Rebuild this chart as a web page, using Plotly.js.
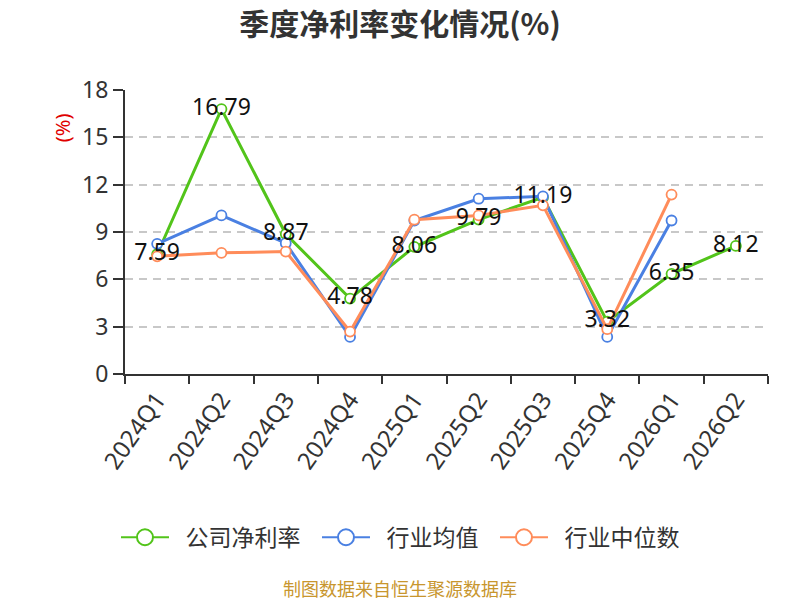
<!DOCTYPE html>
<html>
<head>
<meta charset="utf-8">
<script src="https://cdn.plot.ly/plotly-3.0.1.min.js"></script>
<style>
  html, body { margin: 0; padding: 0; background: #fff; }
  #chart { width: 800px; height: 600px; }
</style>
</head>
<body>
<div id="chart"></div>
<script>
// quarters on the x axis
const quarters = ["2024Q1", "2024Q2", "2024Q3", "2024Q4", "2025Q1", "2025Q2", "2025Q3", "2025Q4", "2026Q1", "2026Q2"];

// net margin of the company, industry mean and industry median (%)
const companyMargin = [7.59, 16.79, 8.87, 4.78, 8.06, 9.79, 11.19, 3.32, 6.35, 8.12];
const industryMean = [8.25, 10.05, 8.29, 2.35, 9.73, 11.11, 11.26, 2.35, 9.73, null];
const industryMedian = [7.46, 7.68, 7.76, 2.69, 9.78, 10.05, 10.69, 2.84, 11.37, null];

const seriesNames = ["公司净利率", "行业均值", "行业中位数"];
const seriesColors = ["#52c41a", "#4a80e2", "#ff8c5a"];
const yTicks = [0, 3, 6, 9, 12, 15, 18];

const font = "'Noto Sans', 'Noto Sans CJK SC', sans-serif";
const cjkFont = "'Noto Sans CJK SC', sans-serif";

function lineTrace(values, color) {
    return {
        x: quarters,
        y: values,
        type: "scatter",
        mode: "lines+markers",
        line: { color: color, width: 3 },
        marker: { symbol: "circle", size: 10, color: "#fff", line: { color: color, width: 1.8 } },
        showlegend: false,
        hoverinfo: "x+y"
    };
}

// legend-only entries, so the legend circles can be bigger than on the lines
function legendTrace(name, color) {
    return {
        x: [quarters[0]],
        y: [null],
        name: "\u2002" + name + "\u2002",
        type: "scatter",
        mode: "lines+markers",
        line: { color: color, width: 2 },
        marker: { symbol: "circle", size: 16, color: "#fff", line: { color: color, width: 2 } },
        hoverinfo: "skip"
    };
}

let data = [
    lineTrace(companyMargin, seriesColors[0]),
    lineTrace(industryMean, seriesColors[1]),
    lineTrace(industryMedian, seriesColors[2])
];

// value labels of the company series, on top of all lines
data.push({
    x: quarters,
    y: companyMargin,
    text: companyMargin.map(v => v.toFixed(2)),
    mode: "text",
    type: "scatter",
    textposition: "middle center",
    textfont: { family: font, size: 23, color: "#111" },
    showlegend: false,
    hoverinfo: "skip"
});

for (let i = 0; i < seriesNames.length; i++) {
    data.push(legendTrace(seriesNames[i], seriesColors[i]));
}

let layout = {
    width: 800,
    height: 600,
    paper_bgcolor: "#fff",
    plot_bgcolor: "#fff",
    margin: { l: 125, r: 32, t: 90, b: 226 },
    font: { family: font, color: "#333" },
    title: {
        text: "<b>季度净利率变化情况(%)</b>",
        font: { family: cjkFont, size: 30, color: "#333" },
        x: 0.5, xanchor: "center",
        y: 0.96, yanchor: "middle"
    },
    xaxis: {
        type: "category",
        range: [-0.5, quarters.length - 0.5],
        tickangle: -55,
        tickfont: { family: font, size: 24, color: "#333" },
        showline: true,
        linecolor: "#333",
        linewidth: 2,
        ticks: "outside",
        tickson: "boundaries",
        ticklen: 8,
        tickcolor: "#333",
        tickwidth: 2,
        showgrid: false,
        zeroline: false,
        fixedrange: true
    },
    yaxis: {
        range: [0, 18],
        tickvals: yTicks,
        tickfont: { family: font, size: 23, color: "#333" },
        showline: true,
        linecolor: "#333",
        linewidth: 2,
        ticks: "outside",
        ticklen: 10,
        tickcolor: "#333",
        tickwidth: 2,
        showgrid: true,
        gridcolor: "#c8c8c8",
        griddash: "8px,6px",
        gridwidth: 1.8,
        zeroline: false,
        fixedrange: true
    },
    legend: {
        orientation: "h",
        x: 0.437, xanchor: "center",
        y: -0.575, yanchor: "middle",
        font: { family: cjkFont, size: 23, color: "#333" },
        itemwidth: 48
    },
    annotations: [
        {
            text: "(%)",
            xref: "paper", yref: "paper",
            x: -0.098, y: 0.869,
            xanchor: "center", yanchor: "middle",
            showarrow: false,
            textangle: -90,
            font: { family: font, size: 20, color: "#e00000" }
        },
        {
            text: "制图数据来自恒生聚源数据库",
            xref: "paper", yref: "paper",
            x: 0.428, y: -0.752,
            xanchor: "center", yanchor: "middle",
            showarrow: false,
            font: { family: cjkFont, size: 18, color: "#c8962e" }
        }
    ],
    showlegend: true
};

Plotly.newPlot("chart", data, layout, { displayModeBar: false, staticPlot: true });
</script>
</body>
</html>
